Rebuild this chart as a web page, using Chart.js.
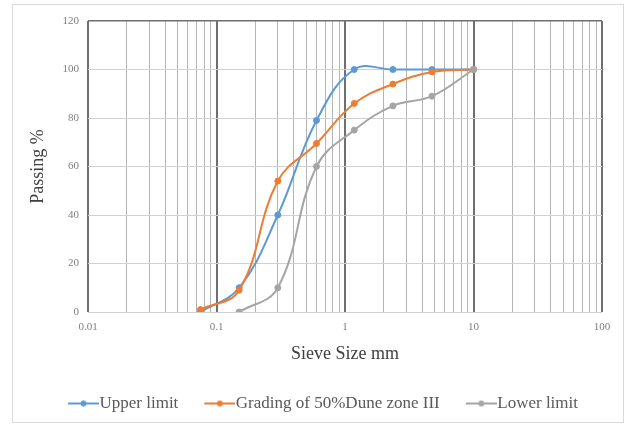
<!DOCTYPE html>
<html>
<head>
<meta charset="utf-8">
<title>Sieve analysis</title>
<script src="https://cdn.jsdelivr.net/npm/chart.js@4.4.1/dist/chart.umd.min.js"></script>
<style>
  html, body { margin: 0; padding: 0; background: #ffffff; }
  #wrap { position: relative; width: 634px; height: 425px; }
  #frame { position: absolute; left: 12px; top: 4px; width: 612px; height: 419px;
           border: 1px solid #d9d9d9; box-sizing: border-box; pointer-events: none; }
  canvas { position: absolute; left: 0; top: 0; }
</style>
</head>
<body>
<div id="wrap">
  <canvas id="chart" width="634" height="425"></canvas>
  <div id="frame"></div>
</div>
<script>
// Sieve openings (mm)
const sieveSizes = [0.075, 0.15, 0.3, 0.6, 1.18, 2.36, 4.75, 10];

// Percent passing for each curve
const upperLimit = [0, 10, 40, 79, 100, 100, 100, 100];
const grading50Dune = [1, 9, 54, 69.5, 86, 94, 99, 100];
const lowerLimit = [null, 0, 10, 60, 75, 85, 89, 100];

const seriesNames = ['Upper limit', 'Grading of 50%Dune zone III', 'Lower limit'];
const seriesColors = ['#5B9BD5', '#ED7D31', '#A5A5A5'];

// Axis ticks
const xDecades = [0.01, 0.1, 1, 10, 100];
const yTicks = [0, 20, 40, 60, 80, 100, 120];

const serif = '"Liberation Serif", "Times New Roman", serif';

function pairs(xs, ys) {
  const out = [];
  xs.forEach((x, i) => { if (ys[i] !== null) out.push({ x: x, y: ys[i] }); });
  return out;
}

// Legend swatch: a short line with a round marker, drawn in the right part
// of the image so it sits right against its label text
function swatch(color) {
  const c = document.createElement('canvas');
  c.width = 55; c.height = 10;
  const g = c.getContext('2d');
  g.strokeStyle = color; g.lineWidth = 2;
  g.beginPath(); g.moveTo(24, 5); g.lineTo(55, 5); g.stroke();
  g.fillStyle = color;
  g.beginPath(); g.arc(39.5, 5, 3, 0, Math.PI * 2); g.fill();
  return c;
}

// Nudge the legend row a little to the right of the canvas centre
const legendShift = {
  id: 'legendShift',
  afterLayout(chart) {
    if (chart.legend) { chart.legend.left += 7; chart.legend.right += 7; }
  }
};

// Log-axis grid positions: every 1..9 multiple inside each decade
const xGridValues = [];
for (let d = 0; d < xDecades.length - 1; d++) {
  for (let k = 1; k <= 9; k++) xGridValues.push(+(k * xDecades[d]).toPrecision(6));
}
xGridValues.push(xDecades[xDecades.length - 1]);
const isDecade = v => xDecades.some(d => Math.abs(v - d) / d < 1e-6);

const datasets = [upperLimit, grading50Dune, lowerLimit].map((ys, i) => ({
  label: seriesNames[i],
  data: pairs(sieveSizes, ys),
  borderColor: seriesColors[i],
  backgroundColor: seriesColors[i],
  borderWidth: 2,
  pointRadius: 3,
  pointHoverRadius: 3,
  pointBorderWidth: 1,
  tension: 0.4,
  order: 3 - i,
  fill: false
}));

new Chart(document.getElementById('chart'), {
  type: 'line',
  data: { datasets: datasets },
  plugins: [legendShift],
  options: {
    responsive: false,
    animation: false,
    layout: { padding: { left: 14, right: 32, top: 21, bottom: 3 } },
    plugins: {
      tooltip: { enabled: false },
      legend: {
        position: 'bottom',
        labels: {
          usePointStyle: true,
          pointStyleWidth: 39,
          padding: 10,
          color: '#595959',
          font: { family: serif, size: 17 },
          generateLabels: chart => seriesNames.map((name, i) => ({
            text: name,
            pointStyle: swatch(seriesColors[i]),
            fillStyle: seriesColors[i],
            strokeStyle: seriesColors[i],
            lineWidth: 0,
            hidden: false,
            datasetIndex: i,
            fontColor: '#595959'
          }))
        }
      }
    },
    scales: {
      x: {
        type: 'logarithmic',
        min: 0.01,
        max: 100,
        afterBuildTicks: scale => { scale.ticks = xGridValues.map(v => ({ value: v })); },
        afterFit: scale => { scale.height = 73; },
        ticks: {
          autoSkip: false,
          maxRotation: 0,
          padding: 9,
          color: '#7f7f7f',
          font: { family: serif, size: 11 },
          callback: v => isDecade(v) ? String(v) : ''
        },
        grid: {
          drawTicks: false,
          color: ctx => (ctx.tick && isDecade(ctx.tick.value)) ? '#6f6f6f' : '#b4b4b4',
          lineWidth: ctx => (ctx.tick && isDecade(ctx.tick.value)) ? 2 : 1
        },
        border: { display: false },
        title: {
          display: true,
          text: 'Sieve Size mm',
          color: '#404040',
          font: { family: serif, size: 18 },
          padding: { top: 0, bottom: 20 }
        }
      },
      y: {
        min: 0,
        max: 120,
        afterBuildTicks: scale => { scale.ticks = yTicks.map(v => ({ value: v })); },
        afterFit: scale => { scale.width = 74; },
        ticks: {
          padding: 9,
          color: '#7f7f7f',
          font: { family: serif, size: 11 }
        },
        grid: {
          drawTicks: false,
          color: ctx => (ctx.tick && ctx.tick.value === 120) ? '#6f6f6f' : '#d0d0d0',
          lineWidth: ctx => (ctx.tick && ctx.tick.value === 120) ? 1.5 : 1
        },
        border: { display: false },
        title: {
          display: true,
          text: 'Passing %',
          color: '#404040',
          font: { family: serif, size: 18 },
          padding: { top: 13, bottom: 0 }
        }
      }
    }
  }
});
</script>
</body>
</html>
